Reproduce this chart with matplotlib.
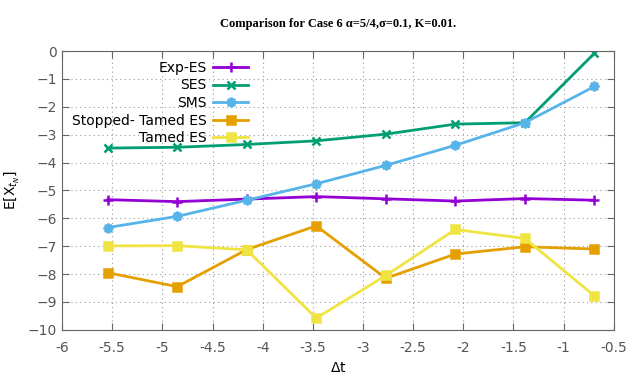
import numpy as np
import matplotlib
matplotlib.use('Agg')
from matplotlib import pyplot as plt

purple = '#9400D3'
green = '#009E73'
blue = '#56B4E9'
orange = '#E69F00'
yellow = '#F0E442'
grey = '#666666'

# log of the step sizes 2^-8 ... 2^-1
dt = np.log([2.0**-8, 2.0**-7, 2.0**-6, 2.0**-5, 2.0**-4, 2.0**-3, 2.0**-2, 2.0**-1])

exp_es = [-5.33, -5.40, -5.31, -5.22, -5.30, -5.38, -5.29, -5.35]
ses = [-3.48, -3.45, -3.35, -3.22, -2.98, -2.62, -2.57, -0.08]
sms = [-6.33, -5.93, -5.35, -4.76, -4.10, -3.38, -2.57, -1.27]
stopped_tamed = [-7.95, -8.45, -7.12, -6.27, -8.15, -7.28, -7.02, -7.10]
tamed = [-6.99, -6.98, -7.13, -9.58, -8.05, -6.40, -6.72, -8.78]

series = [
    ("Exp-ES", exp_es, purple, '+', 7),
    ("SES", ses, green, 'x', 6),
    ("SMS", sms, blue, (8, 2, 0), 7),
    ("Stopped- Tamed ES", stopped_tamed, orange, 's', 6.2),
    ("Tamed ES", tamed, yellow, 's', 6.2),
]

fig = plt.figure(figsize=(6.4, 3.84), dpi=100)
ax = fig.add_axes([0.097, 0.141, 0.862, 0.726])

for name, vals, col, mk, ms in series:
    ax.plot(dt, vals, color=col, lw=2, marker=mk, markersize=ms,
            markeredgewidth=1.8, label=name)

ax.set_xlim(-6, -0.5)
ax.set_ylim(-10, 0)
ax.set_xticks(np.arange(-6, -0.49, 0.5))
ax.set_xticklabels(['%g' % v for v in np.arange(-6, -0.49, 0.5)])
ax.set_yticks(np.arange(-10, 0.1, 1))
ax.grid(True, linestyle=(0, (1, 3)), color='#999999', lw=0.8)
ax.tick_params(direction='in', colors=grey, labelsize=10, length=5,
               top=True, right=True, labelcolor='#555555')
ax.tick_params(axis='x', pad=8)
for sp in ax.spines.values():
    sp.set_color(grey)

ax.set_xlabel(r'$\Delta$t', fontsize=10)
ax.set_ylabel(r'E[X$_{t_N}$]', fontsize=10)

ax.set_title(u'Comparison for Case 6 \u03b1=5/4,\u03c3=0.1, K=0.01.',
             family=['Liberation Serif', 'DejaVu Serif'], fontweight='bold',
             fontsize=9, pad=17)

leg = ax.legend(loc='upper left', bbox_to_anchor=(0.0, 1.0), frameon=False,
                markerfirst=False, fontsize=10, handlelength=2.5,
                labelspacing=0.26, borderaxespad=0.3, handletextpad=0.5)
for t in leg.get_texts():
    t.set_ha('right')
leg._legend_box.align = 'right'

fig.savefig('out.png', dpi=100)
